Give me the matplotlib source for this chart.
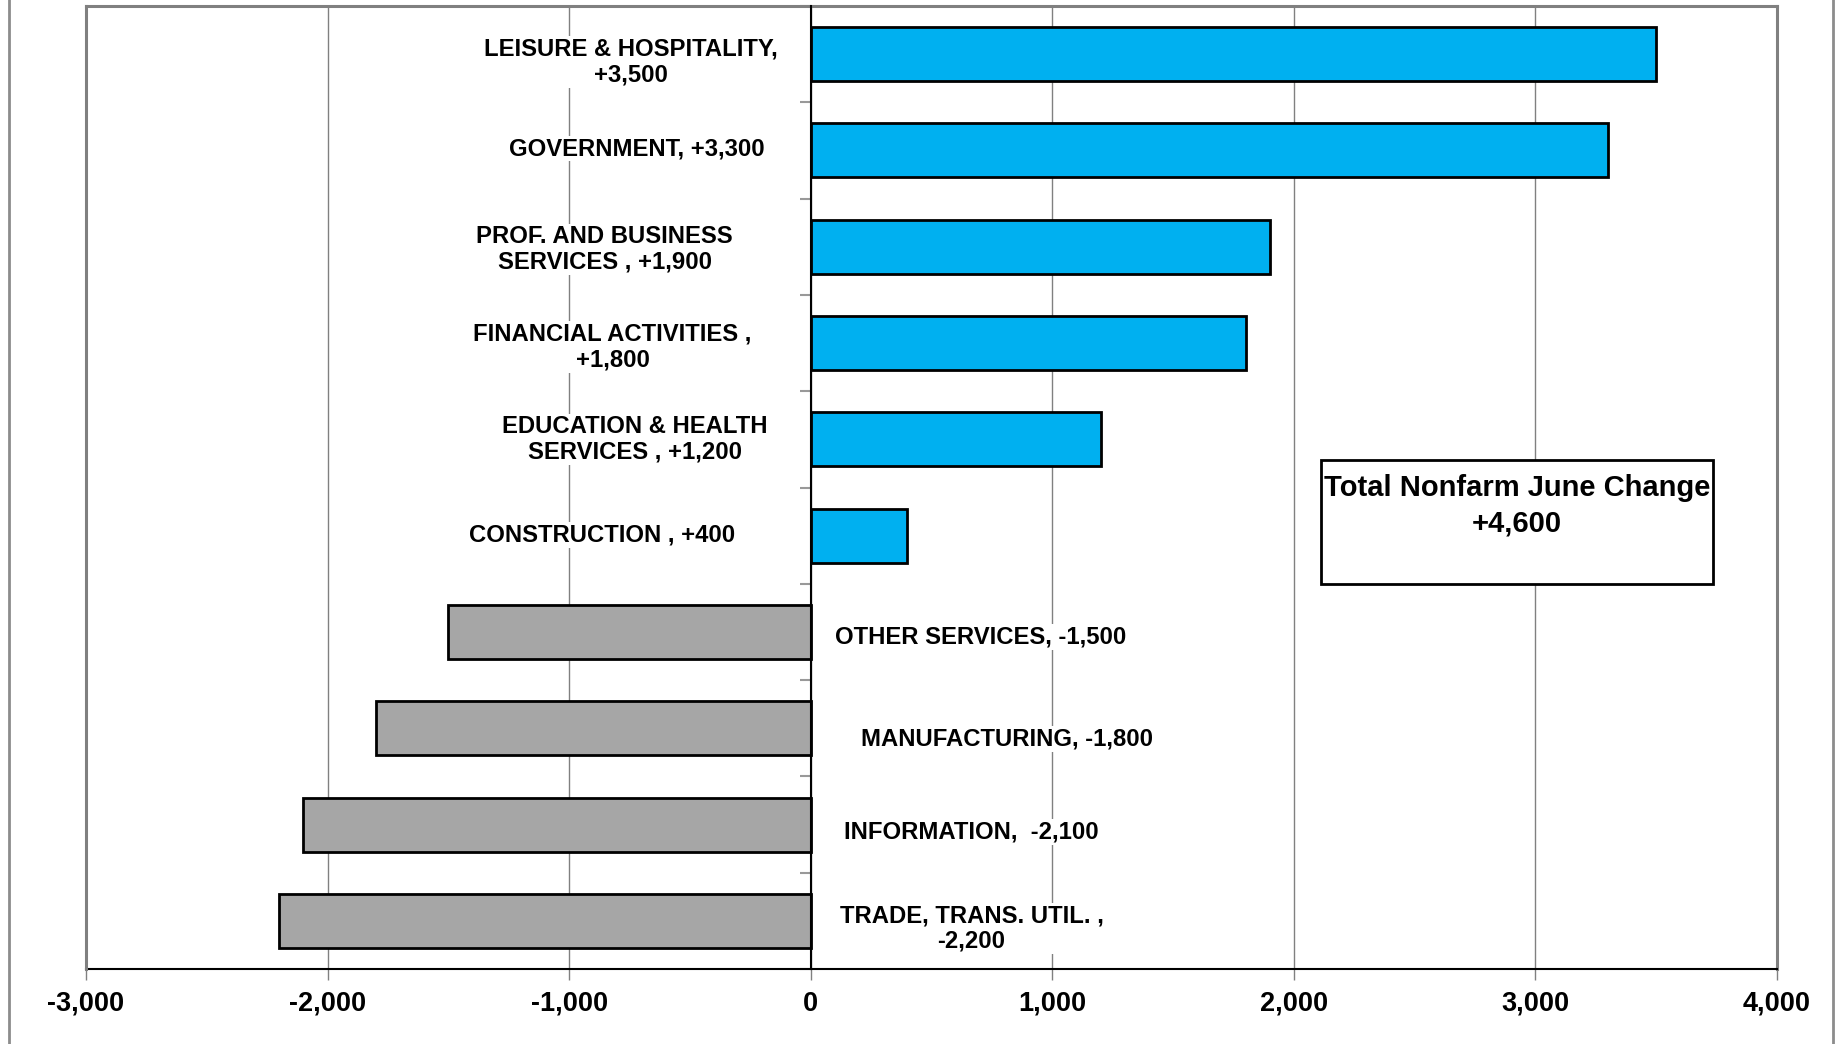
import matplotlib
matplotlib.use("Agg")
import matplotlib.pyplot as plt
from matplotlib.patches import Rectangle
from matplotlib.lines import Line2D
from matplotlib.ticker import FuncFormatter, FixedLocator

# ---- data ----
categories = ["LEISURE & HOSPITALITY,\n+3,500", "GOVERNMENT, +3,300",
              "PROF. AND BUSINESS\nSERVICES , +1,900", "FINANCIAL ACTIVITIES ,\n+1,800",
              "EDUCATION & HEALTH\nSERVICES , +1,200", "CONSTRUCTION , +400",
              "OTHER SERVICES, -1,500", "MANUFACTURING, -1,800",
              "INFORMATION,  -2,100", "TRADE, TRANS. UTIL. ,\n-2,200"]
values = [3500, 3300, 1900, 1800, 1200, 400, -1500, -1800, -2100, -2200]
x_ticks = [-3000, -2000, -1000, 0, 1000, 2000, 3000, 4000]
box_title = "Total Nonfarm June Change"
box_value = "+4,600"

# ---- layout (positions of the data labels, in data units) ----
label_x = [-745, -720, -853, -820, -728, -865, 704, 811, 666, 666]
label_dy = [0.08, -0.02, 0.03, 0.04, 0.0, -0.01, 0.05, 0.11, 0.08, 0.08]

plt.rcParams['font.family'] = ['Liberation Sans', 'DejaVu Sans']
plt.rcParams['axes.unicode_minus'] = False

fig = plt.figure(figsize=(18.41, 10.44), dpi=100)
ax = fig.add_axes([86/1841, 75/1044, (1777-86)/1841, (969-6)/1044])

pos = list(range(len(values)))
colors = ['#00B0F0' if v >= 0 else '#A6A6A6' for v in values]
ax.barh(pos, values, height=0.56, color=colors, edgecolor='black', linewidth=2, zorder=3)

ax.set_xlim(x_ticks[0], x_ticks[-1])
ax.set_ylim(len(values) - 0.5, -0.5)

ax.xaxis.set_major_locator(FixedLocator(x_ticks))
ax.xaxis.set_major_formatter(FuncFormatter(lambda v, p: f"{int(v):,}"))
ax.tick_params(axis='x', direction='out', length=8, width=1, color='#808080', pad=7.5,
               labelsize=19.5)
for t in ax.get_xticklabels():
    t.set_fontweight('bold')
ax.grid(axis='x', color='#808080', linewidth=1, zorder=0)
ax.set_axisbelow(True)

# y axis at zero with boundary ticks
ax.spines['left'].set_position(('data', 0))
ax.spines['left'].set_color('black')
ax.spines['left'].set_linewidth(1.5)
ax.spines['left'].set_zorder(4)
ax.yaxis.set_major_locator(FixedLocator([i + 0.5 for i in range(-1, len(values))]))
ax.tick_params(axis='y', direction='out', length=8, width=1.5, color='#999999', labelleft=False)

ax.spines['bottom'].set_color('black')
ax.spines['bottom'].set_linewidth(1.5)
for s in ['top', 'right']:
    ax.spines[s].set_color('#808080')
    ax.spines[s].set_linewidth(2.2)
ax.plot([0, 0], [0, 1], transform=ax.transAxes, color='#808080', linewidth=2.2,
        clip_on=False, zorder=5)

for i, (lab, lx, dy) in enumerate(zip(categories, label_x, label_dy)):
    ax.text(lx, i + dy, lab, ha='center', va='center', multialignment='center',
            fontsize=17.2, fontweight='bold', linespacing=1.15, zorder=4,
            bbox=dict(facecolor='white', edgecolor='none', pad=1))

# total box
ax.add_patch(Rectangle((0.7302, 0.3999), 0.2318, 0.1289, transform=ax.transAxes,
                       facecolor='white', edgecolor='black', linewidth=2, zorder=4))
ax.text(0.8461, 0.4995, box_title, transform=ax.transAxes, ha='center', va='center',
        fontsize=21, fontweight='bold', zorder=5)
ax.text(0.8461, 0.4630, box_value, transform=ax.transAxes, ha='center', va='center',
        fontsize=21, fontweight='bold', zorder=5)

# outer frame lines
for xf in [8.5/1841, 1833/1841]:
    fig.add_artist(Line2D([xf, xf], [0, 1], color='#8c8c8c', linewidth=2))

fig.savefig("out.png", dpi=100, facecolor='white')
